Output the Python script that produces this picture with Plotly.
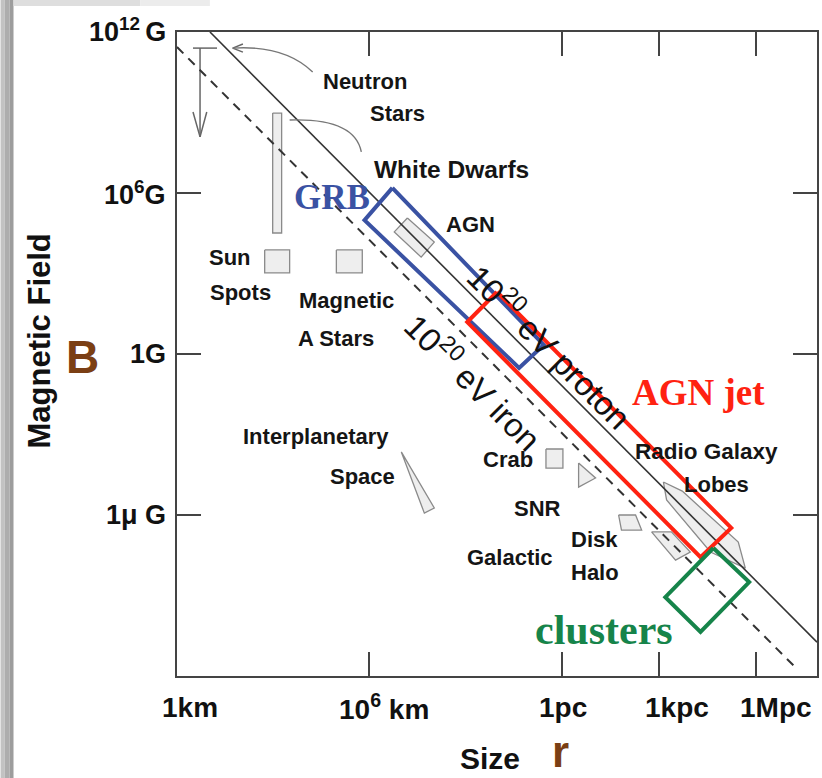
import plotly.graph_objects as go

# ---------------- data (x = log10(size / km), y = log10(B / gauss)) ----------------
X_RANGE = [0, 20]
Y_RANGE = [-12, 12]

x_tick_vals = [6, 12.04, 15.06, 18.08]
y_tick_vals = [12, 6, 0, -6]
x_tick_text = ["1km", "10<sup>6</sup> km", "1pc", "1kpc", "1Mpc"]
x_tick_label_x = [0.40, 6.48, 12.06, 15.61, 18.72]
x_tick_label_y = -13.16
y_tick_text = ["10<sup>12 </sup>G", "10<sup>6</sup>G", "1G", "1\u03bc G"]
y_tick_label_y = [12.07, 6.0, 0.0, -6.0]
y_tick_label_x = -0.28

# Hillas limits
proton_logr = [1.03, 20.0]
proton_logB = [12.0, -10.74]
iron_logr = [0.0, 19.41]
iron_logB = [11.44, -11.78]

# source regions (grey objects)
ns_bar_r = [0.50, 1.25]
ns_bar_B = [11.40, 11.40]
ns_arrow_r = [0.72, 0.72]
ns_arrow_B = [11.40, 8.09]
ns_head_r = [0.50, 0.72, 0.93]
ns_head_B = [9.02, 8.09, 9.02]

wd_r = [2.99, 3.27, 3.27, 2.99]
wd_B = [8.98, 8.98, 4.51, 4.51]
sun_r = [2.74, 3.52, 3.52, 2.74]
sun_B = [3.88, 3.88, 3.02, 3.02]
astar_r = [4.98, 5.79, 5.79, 4.98]
astar_B = [3.88, 3.88, 3.02, 3.02]
agn_r = [7.20, 8.04, 7.63, 6.79]
agn_B = [5.07, 4.17, 3.61, 4.55]
ipl_r = [7.01, 7.73, 8.04]
ipl_B = [-3.65, -5.93, -5.74]
crab_r = [11.53, 12.06, 12.06, 11.53]
crab_B = [-3.54, -3.54, -4.25, -4.25]
snr_r = [12.55, 13.08, 12.55]
snr_B = [-4.06, -4.62, -4.96]
disk_r = [13.80, 14.33, 14.52, 13.89]
disk_B = [-6.00, -6.00, -6.56, -6.56]
halo_r = [14.83, 15.45, 16.04, 15.58]
halo_B = [-6.63, -6.63, -7.38, -7.68]
lobes_r = [15.20, 15.79, 17.54, 17.76, 16.67, 15.30]
lobes_B = [-4.77, -5.11, -7.01, -7.98, -7.38, -5.44]

# highlighted boxes
grb_r = [6.73, 11.46, 10.69, 5.86]
grb_B = [6.19, 0.34, -0.52, 4.99]
jet_r = [10.00, 17.32, 16.36, 9.07]
jet_B = [2.31, -6.48, -7.57, 1.19]
clu_r = [16.76, 17.88, 16.36, 15.26]
clu_B = [-7.23, -8.50, -10.36, -9.06]

# pointer curves (start, control, end)
ns_curve = [(4.24, 10.51), (3.36, 11.52), (1.74, 11.40)]
ns_curve_head_r = [2.06, 1.74, 2.06]
ns_curve_head_B = [11.55, 11.40, 11.25]
wd_curve = [(5.76, 7.53), (5.55, 8.80), (3.52, 8.72)]

# labels
label_text = ["Neutron", "Stars", "White Dwarfs", "AGN", "Sun", "Spots", "Magnetic",
              "A Stars", "Interplanetary", "Space", "Crab", "SNR", "Radio Galaxy",
              "Lobes", "Disk", "Galactic", "Halo"]
label_r = [5.86, 6.88, 8.57, 9.16, 1.65, 1.99, 5.30, 4.98, 4.33, 5.79, 10.34, 11.25,
           16.54, 16.85, 13.05, 10.40, 13.05]
label_B = [10.17, 8.98, 6.86, 4.81, 3.58, 2.31, 2.01, 0.56, -3.06, -4.58, -3.95, -5.74,
           -3.65, -4.88, -6.93, -7.57, -8.16]
label_size = [22, 22, 24.5, 22, 22, 22, 22, 22, 22, 22, 22, 22, 22.5, 22, 22, 22, 22]

BLUE = "#3a52a3"
RED = "#ff2211"
GREEN = "#16844a"
BROWN = "#7b3f14"
GREY_FILL = "#eeeeee"
GREY_LINE = "#8a8a8a"
INK = "#333333"
SANS = "Liberation Sans, Arial, sans-serif"
SERIF = "Liberation Serif, Times New Roman, serif"

fig = go.Figure()


def poly(r, b, fill=GREY_FILL, line=GREY_LINE, width=1.3):
    fig.add_trace(go.Scatter(x=r + r[:1], y=b + b[:1], mode="lines", fill="toself",
                             fillcolor=fill, line=dict(color=line, width=width),
                             hoverinfo="skip"))


for r, b in [(wd_r, wd_B), (sun_r, sun_B), (astar_r, astar_B), (agn_r, agn_B),
             (ipl_r, ipl_B), (crab_r, crab_B), (snr_r, snr_B), (disk_r, disk_B),
             (halo_r, halo_B), (lobes_r, lobes_B)]:
    poly(r, b)

# neutron star upper-limit arrow
for r, b in [(ns_bar_r, ns_bar_B), (ns_arrow_r, ns_arrow_B), (ns_head_r, ns_head_B),
             (ns_curve_head_r, ns_curve_head_B)]:
    fig.add_trace(go.Scatter(x=r, y=b, mode="lines", line=dict(color="#666666", width=1.5),
                             hoverinfo="skip"))

# Hillas lines
fig.add_trace(go.Scatter(x=proton_logr, y=proton_logB, mode="lines",
                         line=dict(color=INK, width=1.6), hoverinfo="skip"))
fig.add_trace(go.Scatter(x=iron_logr, y=iron_logB, mode="lines",
                         line=dict(color=INK, width=2, dash="9px,7px"), hoverinfo="skip"))

# boxes
for r, b, c in [(grb_r, grb_B, BLUE), (jet_r, jet_B, RED), (clu_r, clu_B, GREEN)]:
    fig.add_trace(go.Scatter(x=r + r[:1], y=b + b[:1], mode="lines",
                             line=dict(color=c, width=4), hoverinfo="skip"))

shapes = []
for (x0, y0), (cx, cy), (x1, y1) in [ns_curve, wd_curve]:
    shapes.append(dict(type="path", xref="x", yref="y",
                       path=f"M {x0},{y0} Q {cx},{cy} {x1},{y1}",
                       line=dict(color="#777777", width=1.4)))

# page decorations (grey slide border)
W, H = 822, 778
ML, MR, MT, MB = 177, 3, 32, 102
PW, PH = W - ML - MR, H - MT - MB


def px2paper_x(px):
    return (px - ML) / PW


def px2paper_y(py):
    return (H - MB - py) / PH


def dx(v):  # data x -> paper fraction
    return (v - X_RANGE[0]) / (X_RANGE[1] - X_RANGE[0])


def dy(v):  # data y -> paper fraction
    return (v - Y_RANGE[0]) / (Y_RANGE[1] - Y_RANGE[0])


for x0, x1, col in [(0, 4, "#c2c2c2"), (4, 9, "#adadad"), (9, 13, "#9d9d9d")]:
    shapes.append(dict(type="rect", xref="paper", yref="paper", layer="below",
                       x0=px2paper_x(x0), x1=px2paper_x(x1), y0=px2paper_y(H),
                       y1=px2paper_y(0), fillcolor=col, line=dict(width=0)))
for x0, x1, col in [(13, 140, "#dedede"), (140, 210, "#ececec")]:
    shapes.append(dict(type="rect", xref="paper", yref="paper", layer="below",
                       x0=px2paper_x(x0), x1=px2paper_x(x1), y0=px2paper_y(6),
                       y1=px2paper_y(0), fillcolor=col, line=dict(width=0)))

ann = []
for t, r, b, s in zip(label_text, label_r, label_B, label_size):
    ann.append(dict(x=r, y=b, text=f"<b>{t}</b>", showarrow=False,
                    font=dict(family=SANS, size=s, color="#151515")))

ann += [
    dict(x=4.83, y=5.85, text="<b>GRB</b>", showarrow=False,
         font=dict(family=SERIF, size=35, color=BLUE)),
    dict(x=16.29, y=-1.45, text="<b>AGN jet</b>", showarrow=False,
         font=dict(family=SERIF, size=37, color=RED)),
    dict(x=13.33, y=-10.29, text="<b>clusters</b>", showarrow=False,
         font=dict(family=SERIF, size=42, color=GREEN)),
    dict(x=11.68, y=0.30, text="10<sup>20</sup> eV proton", showarrow=False, textangle=45,
         font=dict(family=SANS, size=33, color="#111111")),
    dict(x=9.28, y=-1.01, text="10<sup>20</sup> eV iron", showarrow=False, textangle=45,
         font=dict(family=SANS, size=33, color="#111111")),
]

# texts outside the plotting area (paper coordinates)
outside = [
    ("<b>Magnetic Field</b>", -4.30, 0.48, 31, "#111111", -90, "middle"),
    ("<b>B</b>", -2.96, -0.11, 46, BROWN, 0, "middle"),
    ("<b>Size</b>", 9.78, -15.77, 30, "#111111", 0, "bottom"),
    ("<b>r</b>", 11.99, -15.80, 44, BROWN, 0, "bottom"),
]
for t, r, b, s, c, a, ya in outside:
    ann.append(dict(x=dx(r), y=dy(b), xref="paper", yref="paper", text=t,
                    xanchor="center", yanchor=ya,
                    showarrow=False, textangle=a,
                    font=dict(family=SANS, size=s, color=c)))
for t, r in zip(x_tick_text, x_tick_label_x):
    ann.append(dict(x=dx(r), y=dy(x_tick_label_y), xref="paper", yref="paper",
                    xanchor="center", yanchor="middle",
                    text=f"<b>{t}</b>", showarrow=False,
                    font=dict(family=SANS, size=28, color="#111111")))
for t, b in zip(y_tick_text, y_tick_label_y):
    ann.append(dict(x=dx(y_tick_label_x), y=dy(b), xref="paper", yref="paper",
                    text=f"<b>{t}</b>", showarrow=False, xanchor="right",
                    yanchor="middle",
                    font=dict(family=SANS, size=27, color="#111111")))

axis_common = dict(showline=True, mirror="ticks", linecolor="#444444", linewidth=1.6,
                   ticks="inside", ticklen=24, tickwidth=1.6, tickcolor="#444444",
                   showgrid=False, zeroline=False, showticklabels=False, fixedrange=True)

fig.update_layout(
    width=W, height=H,
    margin=dict(l=ML, r=MR, t=MT, b=MB),
    paper_bgcolor="white", plot_bgcolor="white",
    showlegend=False,
    xaxis=dict(range=X_RANGE, tickvals=x_tick_vals, **axis_common),
    yaxis=dict(range=Y_RANGE, tickvals=y_tick_vals, **axis_common),
    shapes=shapes,
    annotations=ann,
)

fig.write_html("out.html")
